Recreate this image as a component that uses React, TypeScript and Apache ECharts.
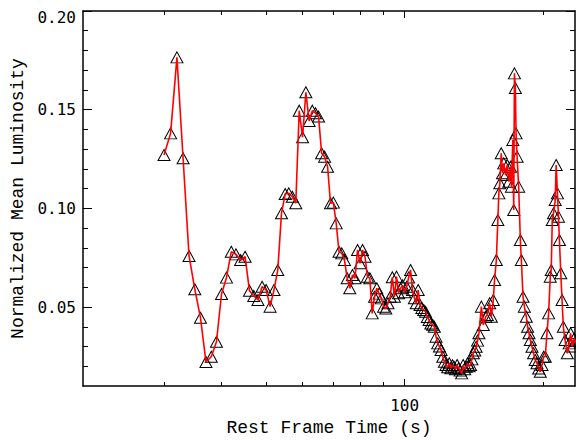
import React, { useEffect, useRef } from "react";
import * as echarts from "echarts";

// Rest-frame time (s)
const restTime = [
  30, 31, 32, 33, 34, 35, 36, 37, 38, 39,
  40, 41, 42, 43, 44, 45, 46, 47, 48, 49,
  50, 51, 52, 53, 54, 55, 56, 57, 58, 59,
  60, 61, 62, 63, 64, 65, 66, 67, 68, 69,
  70, 71, 72, 73, 74, 75, 76, 77, 78, 79,
  80, 81, 82, 83, 84, 85, 86, 87, 88, 89,
  90, 91, 92, 93, 94, 95, 96, 97, 98, 99,
  100, 101, 102, 103, 104, 105, 106, 107, 108, 109,
  110, 111, 112, 113, 114, 115, 116, 117, 118, 119,
  120, 121, 122, 123, 124, 125, 126, 127, 128, 129,
  130, 131, 132, 133, 134, 135, 136, 137, 138, 139,
  140, 141, 142, 143, 144, 145, 146.8, 148.2, 150, 151.2,
  153, 154.3, 155.8, 156.8, 158.2, 159.4, 160.2, 161, 162.1, 163.2,
  164.2, 165.7, 167, 168.4, 169.8, 170.6, 171.8, 172.6, 173.2, 174,
  174.6, 175.5, 176.9, 178.4, 179.3, 180.8, 182, 183.8, 185, 186.3,
  187.5, 189.1, 190.6, 192.2, 193.9, 195.5, 197.1, 198.8, 200.4, 202.1,
  203.8, 205.5, 207.2, 208.2, 209.3, 210.6, 212.4, 213.4, 214.8, 215.9,
  216.9, 218.4, 219.8, 221.2, 223.1, 225.6, 227.8, 229.4, 231.5, 233.5,
  235.5,
];

// Normalized mean luminosity
const luminosity = [
  0.127, 0.138, 0.1765, 0.1254, 0.0759, 0.059, 0.0446, 0.0222, 0.0248, 0.0324,
  0.0566, 0.0649, 0.078, 0.0767, 0.0738, 0.0755, 0.0583, 0.0556, 0.0536, 0.0603,
  0.0586, 0.0502, 0.0586, 0.0688, 0.0975, 0.1073, 0.1076, 0.1059, 0.1026, 0.1495,
  0.136, 0.1588, 0.1443, 0.1495, 0.1482, 0.1465, 0.1279, 0.1262, 0.1211, 0.1026,
  0.1029, 0.0924, 0.078, 0.0772, 0.0738, 0.0646, 0.0595, 0.0662, 0.0646, 0.0789,
  0.0722, 0.0789, 0.0755, 0.0654, 0.0646, 0.0468, 0.0552, 0.0595, 0.0568, 0.0544,
  0.0502, 0.0493, 0.0519, 0.0552, 0.0651, 0.0552, 0.0654, 0.057, 0.0595, 0.061,
  0.0575, 0.0603, 0.065, 0.0688, 0.0586, 0.0545, 0.0519, 0.0586, 0.051, 0.0495,
  0.0485, 0.0476, 0.045, 0.0434, 0.0417, 0.041, 0.04, 0.035, 0.0316, 0.03,
  0.0282, 0.0248, 0.0223, 0.0206, 0.0195, 0.0215, 0.019, 0.0205, 0.0198, 0.0185,
  0.0206, 0.019, 0.0178, 0.0164, 0.0206, 0.0185, 0.0198, 0.0215, 0.02, 0.0206,
  0.0235, 0.0266, 0.028, 0.0299, 0.033, 0.0367, 0.0502, 0.0409, 0.0451, 0.046,
  0.0519, 0.0451, 0.0536, 0.0637, 0.0738, 0.0941, 0.1076, 0.1127, 0.1279, 0.1178,
  0.1228, 0.1169, 0.122, 0.1135, 0.1211, 0.111, 0.1346, 0.0992, 0.1684, 0.161,
  0.138, 0.1262, 0.111, 0.084, 0.0738, 0.0552, 0.0502, 0.0451, 0.04, 0.0367,
  0.0333, 0.0299, 0.0266, 0.0232, 0.0215, 0.0189, 0.0172, 0.0206, 0.0248, 0.0248,
  0.0367, 0.0468, 0.0654, 0.0688, 0.0941, 0.0975, 0.1042, 0.122, 0.1076, 0.0958,
  0.084, 0.0671, 0.0536, 0.04, 0.0333, 0.0266, 0.0316, 0.0367, 0.03, 0.034,
  0.032,
];

const xMajorTicks = [100];
const xMinorTicks = [30, 40, 50, 60, 70, 80, 90, 200];
const xLabelTicks = [100];
const yMajorTicks = [0.05, 0.1, 0.15, 0.2];
const yMinorTicks = [
  0.02, 0.03, 0.04, 0.06, 0.07, 0.08, 0.09, 0.11, 0.12, 0.13, 0.14, 0.16, 0.17,
  0.18, 0.19,
];

const X_MIN = 20;
const X_MAX = 234.5;
const Y_MIN = 0.01;
const Y_MAX = 0.2;

const TICK_FONT = "DejaVu Sans Mono";
const TITLE_FONT = "Liberation Mono";

export default function App() {
  const ref = useRef<HTMLDivElement>(null);

  useEffect(() => {
    if (!ref.current) return;
    const chart = echarts.init(ref.current, null, { renderer: "svg" });
    const n = Math.min(restTime.length, luminosity.length);
    const pts: [number, number][] = [];
    for (let i = 0; i < n; i++) pts.push([restTime[i], luminosity[i]]);

    const lx0 = Math.log10(X_MIN);
    const lx1 = Math.log10(X_MAX);
    const axisLine = { show: true, lineStyle: { color: "#000", width: 1.5 } };
    const noSplit = { show: false };

    const xTickAxis = (
      position: string,
      ticks: number[],
      len: number,
      showLine: boolean,
      extra: any = {}
    ) => ({
      type: "value",
      position,
      min: lx0,
      max: lx1,
      gridIndex: 0,
      axisLine: showLine ? axisLine : { show: false },
      axisTick: {
        show: true,
        inside: true,
        length: len,
        lineStyle: { color: "#000", width: 1 },
        customValues: ticks.map((t) => Math.log10(t)),
      },
      axisLabel: { show: false },
      splitLine: noSplit,
      ...extra,
    });

    const yTickAxis = (
      position: string,
      ticks: number[],
      len: number,
      showLine: boolean,
      extra: any = {}
    ) => ({
      type: "value",
      position,
      min: Y_MIN,
      max: Y_MAX,
      gridIndex: 0,
      axisLine: showLine ? axisLine : { show: false },
      axisTick: {
        show: true,
        inside: true,
        length: len,
        lineStyle: { color: "#000", width: 1 },
        customValues: ticks,
      },
      axisLabel: { show: false },
      splitLine: noSplit,
      ...extra,
    });

    chart.setOption({
      animation: false,
      backgroundColor: "#fff",
      grid: {
        left: 83,
        top: 11,
        width: 492,
        height: 375,
        containLabel: false,
        outerBoundsMode: "none",
      },
      xAxis: [
        {
          type: "log",
          logBase: 10,
          min: X_MIN,
          max: X_MAX,
          show: false,
        },
        xTickAxis("bottom", xMajorTicks, 7, true, {
          axisLabel: {
            show: true,
            customValues: xLabelTicks.map((t) => Math.log10(t)),
            formatter: (v: number) => String(Math.round(Math.pow(10, v))),
            fontFamily: TICK_FONT,
            fontSize: 16,
            color: "#000",
            margin: 11,
          },
        }),
        xTickAxis("bottom", xMinorTicks, 4, false, {
          name: "Rest Frame Time (s)",
          nameLocation: "middle",
          nameGap: 33,
          nameTextStyle: {
            fontFamily: TITLE_FONT,
            fontSize: 18,
            color: "#000",
          },
        }),
        xTickAxis("top", xMajorTicks, 7, true),
        xTickAxis("top", xMinorTicks, 4, false),
      ],
      yAxis: [
        yTickAxis("left", yMajorTicks, 9, true, {
          axisLabel: {
            show: true,
            customValues: yMajorTicks,
            formatter: (v: number) =>
              v > 0.199 ? "{top|" + v.toFixed(2) + "}" : v.toFixed(2),
            fontFamily: TICK_FONT,
            fontSize: 16,
            color: "#000",
            margin: 7,
            rich: {
              top: {
                fontFamily: TICK_FONT,
                fontSize: 16,
                color: "#000",
                padding: [12, 0, 0, 0],
              },
            },
          },
          name: "Normalized Mean Luminosity",
          nameLocation: "middle",
          nameGap: 56,
          nameTextStyle: {
            fontFamily: TITLE_FONT,
            fontSize: 18,
            color: "#000",
          },
        }),
        yTickAxis("left", yMinorTicks, 5, false),
        yTickAxis("right", yMajorTicks, 9, true),
        yTickAxis("right", yMinorTicks, 5, false),
      ],
      series: [
        {
          type: "scatter",
          xAxisIndex: 0,
          yAxisIndex: 0,
          data: pts,
          symbol: "triangle",
          symbolSize: [12, 11],
          itemStyle: {
            color: "rgba(0,0,0,0)",
            borderColor: "#000",
            borderWidth: 1,
            opacity: 1,
          },
          z: 2,
          silent: true,
        },
        {
          type: "line",
          xAxisIndex: 0,
          yAxisIndex: 0,
          data: pts,
          showSymbol: false,
          symbol: "none",
          lineStyle: { color: "#ff0000", width: 1.6 },
          z: 3,
          silent: true,
        },
      ],
    });

    return () => chart.dispose();
  }, []);

  return (
    <div
      ref={ref}
      style={{
        position: "fixed",
        left: 0,
        top: 0,
        width: 576,
        height: 440,
        background: "#fff",
      }}
    />
  );
}
